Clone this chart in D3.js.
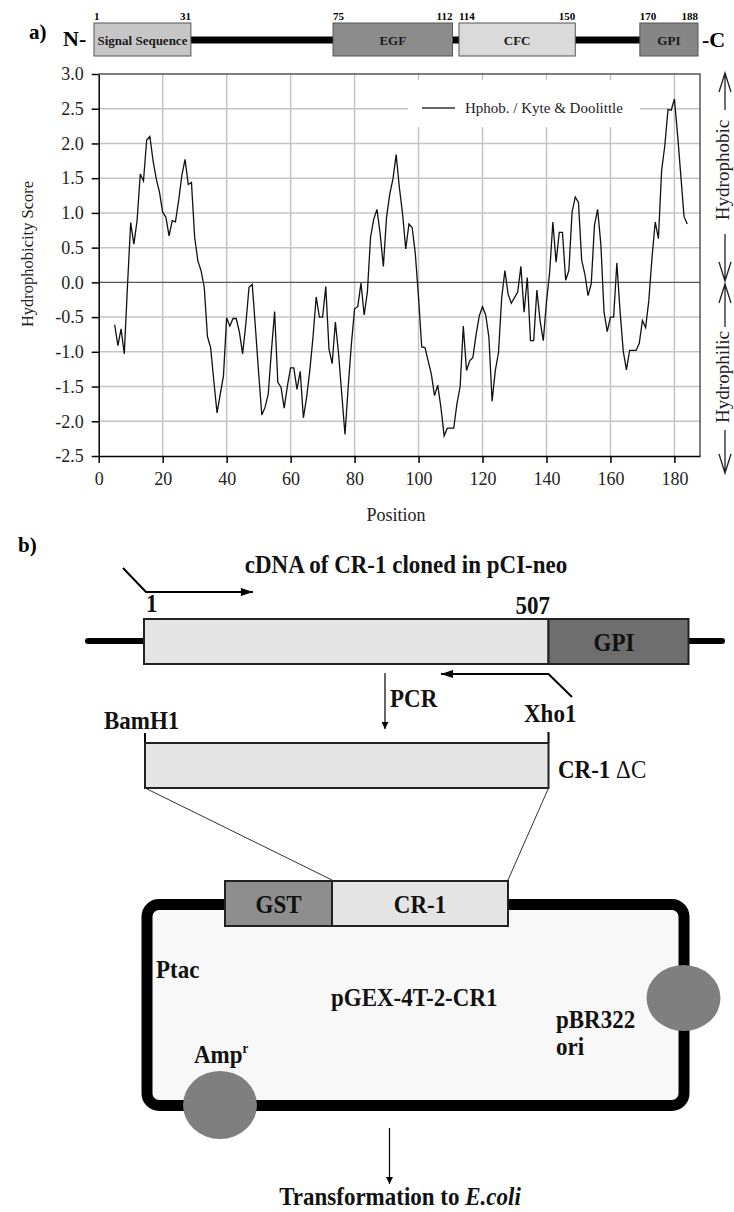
<!DOCTYPE html>
<html lang="en">
<head>
<meta charset="UTF-8">
<title>CR-1 hydrophobicity plot and pGEX-4T-2-CR1 cloning</title>
<script src="https://d3js.org/d3.v7.min.js"></script>
<style>
  body { margin: 0; background: #fff; }
  svg { display: block; font-family: "Liberation Serif", "Times New Roman", serif; }
</style>
</head>
<body>
<svg id="fig" width="734" height="1212"></svg>
<script>
// ---- data ----
// Kyte & Doolittle score, one value per residue, window centred from residue 5 to 184
const firstResidue = 5;
const scores = [
  -0.61, -0.91, -0.67, -1.03, -0.05, 0.86, 0.55, 0.89, 1.56, 1.46,   // 5-14
  2.05, 2.10, 1.75, 1.49, 1.30, 1.01, 0.94, 0.67, 0.89, 0.87,        // 15-24
  1.18, 1.54, 1.77, 1.41, 1.44, 0.65, 0.31, 0.17, -0.07, -0.78,      // 25-34
  -0.94, -1.42, -1.88, -1.61, -1.35, -0.51, -0.63, -0.52, -0.52, -0.72, // 35-44
  -1.03, -0.60, -0.07, -0.03, -0.65, -1.30, -1.91, -1.80, -1.61, -0.99, // 45-54
  -0.42, -1.44, -1.51, -1.81, -1.49, -1.23, -1.23, -1.54, -1.28, -1.95, // 55-64
  -1.66, -1.27, -0.79, -0.21, -0.50, -0.50, -0.06, -0.96, -1.17, -0.57, // 65-74
  -1.03, -1.61, -2.19, -1.51, -0.89, -0.38, -0.35, -0.01, -0.47, -0.14, // 75-84
  0.65, 0.91, 1.05, 0.70, 0.23, 0.94, 1.27, 1.49, 1.84, 1.37,        // 85-94
  0.99, 0.48, 0.84, 0.79, 0.41, -0.22, -0.93, -0.94, -1.13, -1.32,   // 95-104
  -1.63, -1.48, -1.80, -2.21, -2.10, -2.10, -2.10, -1.75, -1.50, -0.63, // 105-114
  -1.27, -1.13, -1.08, -0.75, -0.48, -0.35, -0.47, -0.79, -1.71, -1.27, // 115-124
  -1.01, -0.22, 0.17, -0.17, -0.30, -0.22, -0.14, 0.23, -0.43, 0.07,  // 125-134
  -0.84, -0.84, -0.11, -0.55, -0.84, -0.28, 0.15, 0.87, 0.29, 0.72,  // 135-144
  0.72, 0.03, 0.17, 1.01, 1.23, 1.15, 0.32, 0.12, -0.19, -0.02,      // 145-154
  0.82, 1.05, 0.55, -0.43, -0.71, -0.50, -0.50, 0.28, -0.41, -0.99,  // 155-164
  -1.26, -0.98, -0.98, -0.98, -0.88, -0.55, -0.65, -0.26, 0.36, 0.87, // 165-174
  0.63, 1.61, 1.97, 2.49, 2.48, 2.64, 2.12, 1.54, 0.95, 0.84         // 175-184
];
const xTicks = [0, 20, 40, 60, 80, 100, 120, 140, 160, 180];
const yTicks = [-2.5, -2.0, -1.5, -1.0, -0.5, 0.0, 0.5, 1.0, 1.5, 2.0, 2.5, 3.0];

// protein domains (residue numbers)
const domainNames  = ["Signal Sequence", "EGF", "CFC", "GPI"];
const domainStarts = [1, 75, 114, 170];
const domainEnds   = [31, 112, 150, 188];
const domainFills  = ["#c6c6c6", "#8c8c8c", "#dadada", "#868686"];

const svg = d3.select("#fig");
const serif = '"Liberation Serif", "Times New Roman", serif';

// ---- a) domain map ----
const dx = d3.scaleLinear().domain([1, 188]).range([94, 698]);
const mapTop = 23, mapH = 33, mapMid = 40;

svg.append("text").attr("x", 29).attr("y", 39).attr("font-size", 21)
  .attr("font-weight", "bold").text("a)");
svg.append("text").attr("x", 63).attr("y", 46).attr("font-size", 22)
  .attr("font-weight", "bold").text("N-");
svg.append("text").attr("x", 702).attr("y", 47).attr("font-size", 22)
  .attr("font-weight", "bold").text("-C");

svg.append("line")
  .attr("x1", dx(1)).attr("x2", dx(188))
  .attr("y1", mapMid).attr("y2", mapMid)
  .attr("stroke", "#000").attr("stroke-width", 7);

const dom = svg.selectAll(".domain-box")
  .data(domainNames)
  .join("g").attr("class", "domain-box");

dom.append("rect")
  .attr("x", (d, i) => dx(domainStarts[i]))
  .attr("y", mapTop)
  .attr("width", (d, i) => dx(domainEnds[i]) - dx(domainStarts[i]))
  .attr("height", mapH)
  .attr("fill", (d, i) => domainFills[i])
  .attr("stroke", "#555").attr("stroke-width", 1);

dom.append("text")
  .attr("x", (d, i) => (dx(domainStarts[i]) + dx(domainEnds[i])) / 2)
  .attr("y", 45)
  .attr("text-anchor", "middle")
  .attr("font-size", 13).attr("font-weight", "bold").attr("fill", "#1a1a1a")
  .text(d => d);

dom.append("text")
  .attr("x", (d, i) => dx(domainStarts[i]))
  .attr("y", 20)
  .attr("font-size", 11).attr("font-weight", "bold")
  .text((d, i) => domainStarts[i]);

dom.append("text")
  .attr("x", (d, i) => dx(domainEnds[i]))
  .attr("y", 20)
  .attr("text-anchor", "end")
  .attr("font-size", 11).attr("font-weight", "bold")
  .text((d, i) => domainEnds[i]);

// ---- hydrophobicity plot ----
const x = d3.scaleLinear().domain([0, 188]).range([98.7, 700]);
const y = d3.scaleLinear().domain([-2.5, 3]).range([456, 74]);

// grid
svg.append("g").selectAll("line")
  .data(xTicks.filter(d => d > 0))
  .join("line")
  .attr("x1", d => x(d)).attr("x2", d => x(d))
  .attr("y1", y(3)).attr("y2", y(-2.5))
  .attr("stroke", "#c4c4c4").attr("stroke-width", 1.5);

svg.append("g").selectAll("line")
  .data(yTicks.filter(d => d !== 0 && d > -2.5 && d < 3))
  .join("line")
  .attr("x1", x(0)).attr("x2", x(188))
  .attr("y1", d => y(d)).attr("y2", d => y(d))
  .attr("stroke", "#c4c4c4").attr("stroke-width", 1.5);

// legend box hides the grid behind it
svg.append("rect")
  .attr("x", 408).attr("y", 80).attr("width", 232).attr("height", 47)
  .attr("fill", "#fff");
svg.append("line")
  .attr("x1", 422).attr("x2", 455).attr("y1", 108).attr("y2", 108)
  .attr("stroke", "#333").attr("stroke-width", 1.4);
svg.append("text")
  .attr("x", 465).attr("y", 113).attr("font-size", 15).attr("fill", "#222")
  .text("Hphob. / Kyte & Doolittle");

// zero line and frame
svg.append("line")
  .attr("x1", x(0)).attr("x2", x(188)).attr("y1", y(0)).attr("y2", y(0))
  .attr("stroke", "#555").attr("stroke-width", 1.4);
svg.append("path")
  .attr("d", `M${x(0)},${y(3)}H${x(188)}V${y(-2.5)}`)
  .attr("fill", "none").attr("stroke", "#555").attr("stroke-width", 1.5);

// profile
const line = d3.line()
  .x((d, i) => x(firstResidue + i))
  .y(d => y(d));
svg.append("path")
  .datum(scores)
  .attr("d", line)
  .attr("fill", "none")
  .attr("stroke", "#111")
  .attr("stroke-width", 1.3);

// axes
const yAxis = svg.append("g")
  .attr("transform", `translate(${x(0)},0)`)
  .call(d3.axisLeft(y).tickValues(yTicks).tickSize(7).tickSizeOuter(0)
    .tickPadding(8).tickFormat(d => d.toFixed(1)));
const xAxis = svg.append("g")
  .attr("transform", `translate(0,${y(-2.5)})`)
  .call(d3.axisBottom(x).tickValues(xTicks).tickSize(7).tickSizeOuter(0)
    .tickPadding(9).tickFormat(d3.format("d")));
[yAxis, xAxis].forEach(g => {
  g.attr("font-family", serif).attr("font-size", 18);
  g.select(".domain").attr("stroke", "#000").attr("stroke-width", 1.5);
  g.selectAll(".tick line").attr("stroke", "#000").attr("stroke-width", 1.5);
  g.selectAll(".tick text").attr("fill", "#222");
});

svg.append("text")
  .attr("transform", "translate(33,254) rotate(-90)")
  .attr("text-anchor", "middle").attr("font-size", 16.5).attr("fill", "#222")
  .text("Hydrophobicity Score");
svg.append("text")
  .attr("x", 396).attr("y", 521)
  .attr("text-anchor", "middle").attr("font-size", 18).attr("fill", "#222")
  .text("Position");

// side labels with open arrows
const sideX = 725;
const sideArrows = [
  { from: 110, tip: 73 },
  { from: 234, tip: 281 },
  { from: 327, tip: 284 },
  { from: 430, tip: 473 }
];
sideArrows.forEach(a => {
  const dir = a.tip < a.from ? 1 : -1;
  svg.append("path")
    .attr("d", `M${sideX},${a.from}V${a.tip}M${sideX - 6},${a.tip + dir * 19}L${sideX},${a.tip}L${sideX + 6},${a.tip + dir * 19}`)
    .attr("fill", "none").attr("stroke", "#222").attr("stroke-width", 1.3);
});
[["Hydrophobic", 170], ["Hydrophilic", 377]].forEach(([t, cy]) => {
  svg.append("text")
    .attr("transform", `translate(729,${cy}) rotate(-90)`)
    .attr("text-anchor", "middle").attr("font-size", 19).attr("fill", "#222")
    .text(t);
});

// ---- b) cloning scheme ----
svg.append("text").attr("x", 18).attr("y", 552).attr("font-size", 21)
  .attr("font-weight", "bold").text("b)");

function label(xp, yp, txt, opts = {}) {
  const t = svg.append("text")
    .attr("transform", `translate(${xp},${yp}) scale(1,1.12)`)
    .attr("font-size", opts.size || 23)
    .attr("font-weight", opts.weight || "bold")
    .attr("text-anchor", opts.anchor || "start")
    .attr("fill", "#111");
  if (typeof txt === "string") t.text(txt);
  else txt.forEach(p => {
    const s = t.append("tspan").text(p.t);
    if (p.weight) s.attr("font-weight", p.weight);
    if (p.style) s.attr("font-style", p.style);
    if (p.size) s.attr("font-size", p.size);
    if (p.dy) s.attr("dy", p.dy);
  });
  return t;
}

const defs = svg.append("defs");
defs.append("marker").attr("id", "headBig")
  .attr("viewBox", "0 0 12 8").attr("refX", 12).attr("refY", 4)
  .attr("markerWidth", 12).attr("markerHeight", 8)
  .attr("markerUnits", "userSpaceOnUse").attr("orient", "auto")
  .append("path").attr("d", "M0,0L12,4L0,8Z").attr("fill", "#000");
defs.append("marker").attr("id", "headSmall")
  .attr("viewBox", "0 0 8 8").attr("refX", 8).attr("refY", 4)
  .attr("markerWidth", 9).attr("markerHeight", 7)
  .attr("markerUnits", "userSpaceOnUse").attr("orient", "auto")
  .append("path").attr("d", "M0,0L8,4L0,8Z").attr("fill", "#000");

const light = "#e4e4e4", dark = "#6e6e6e", mid = "#8e8e8e";

label(406, 573, "cDNA of CR-1 cloned in pCI-neo", { anchor: "middle" });

// forward primer
svg.append("path").attr("d", "M123,568L146,592H253")
  .attr("fill", "none").attr("stroke", "#000").attr("stroke-width", 2)
  .attr("marker-end", "url(#headBig)");
label(146, 612, "1");
label(550, 614, "507", { anchor: "end" });

// vector backbone + insert
svg.append("line").attr("x1", 88).attr("x2", 144).attr("y1", 641).attr("y2", 641)
  .attr("stroke", "#000").attr("stroke-width", 6).attr("stroke-linecap", "round");
svg.append("line").attr("x1", 688).attr("x2", 722).attr("y1", 641).attr("y2", 641)
  .attr("stroke", "#000").attr("stroke-width", 6).attr("stroke-linecap", "round");
svg.append("rect").attr("x", 144).attr("y", 619).attr("width", 404.5).attr("height", 45)
  .attr("fill", light).attr("stroke", "#222").attr("stroke-width", 2);
svg.append("rect").attr("x", 548.5).attr("y", 619).attr("width", 140).attr("height", 45)
  .attr("fill", dark).attr("stroke", "#222").attr("stroke-width", 2);
label(614, 651, "GPI", { anchor: "middle" });

// reverse primer
svg.append("path").attr("d", "M572,697L548.5,674H441")
  .attr("fill", "none").attr("stroke", "#000").attr("stroke-width", 2)
  .attr("marker-end", "url(#headBig)");

// PCR
svg.append("line").attr("x1", 385).attr("x2", 385).attr("y1", 673).attr("y2", 729)
  .attr("stroke", "#000").attr("stroke-width", 1.2).attr("marker-end", "url(#headSmall)");
label(390, 707, "PCR");
label(104, 729, "BamH1");
label(524, 722, "Xho1");

// truncated product
svg.append("path").attr("d", "M145,733V743M548.5,732V743")
  .attr("stroke", "#000").attr("stroke-width", 2);
svg.append("rect").attr("x", 145).attr("y", 743).attr("width", 403.5).attr("height", 45)
  .attr("fill", light).attr("stroke", "#222").attr("stroke-width", 2);
label(558, 778, [{ t: "CR-1 " }, { t: "\u0394C", weight: "normal" }]);

// zoom lines into plasmid
svg.append("path").attr("d", "M145,788L332,880M548.5,788L508,880")
  .attr("fill", "none").attr("stroke", "#333").attr("stroke-width", 1);

// plasmid
svg.append("rect").attr("x", 147).attr("y", 904.5).attr("width", 537).attr("height", 201)
  .attr("rx", 12).attr("fill", "#f8f8f8").attr("stroke", "#000").attr("stroke-width", 11);
svg.append("rect").attr("x", 225).attr("y", 881).attr("width", 107).attr("height", 45)
  .attr("fill", mid).attr("stroke", "#222").attr("stroke-width", 2);
svg.append("rect").attr("x", 332).attr("y", 881).attr("width", 176).attr("height", 45)
  .attr("fill", light).attr("stroke", "#222").attr("stroke-width", 2);
label(278.5, 913, "GST", { anchor: "middle" });
label(420, 913, "CR-1", { anchor: "middle" });

svg.append("ellipse").attr("cx", 220).attr("cy", 1105).attr("rx", 37).attr("ry", 34)
  .attr("fill", "#7f7f7f");
svg.append("ellipse").attr("cx", 683.5).attr("cy", 998).attr("rx", 37).attr("ry", 33)
  .attr("fill", "#7f7f7f");

label(156, 978, "Ptac");
label(331, 1006, "pGEX-4T-2-CR1");
label(556, 1028, "pBR322");
label(556, 1055, "ori");
label(194, 1063, [{ t: "Amp" }, { t: "r", size: 13, dy: -9 }]);

svg.append("line").attr("x1", 389.5).attr("x2", 389.5).attr("y1", 1128).attr("y2", 1184)
  .attr("stroke", "#000").attr("stroke-width", 1.2).attr("marker-end", "url(#headSmall)");
label(400, 1205, [{ t: "Transformation to " }, { t: "E.coli", style: "italic" }], { anchor: "middle" });
</script>
</body>
</html>
